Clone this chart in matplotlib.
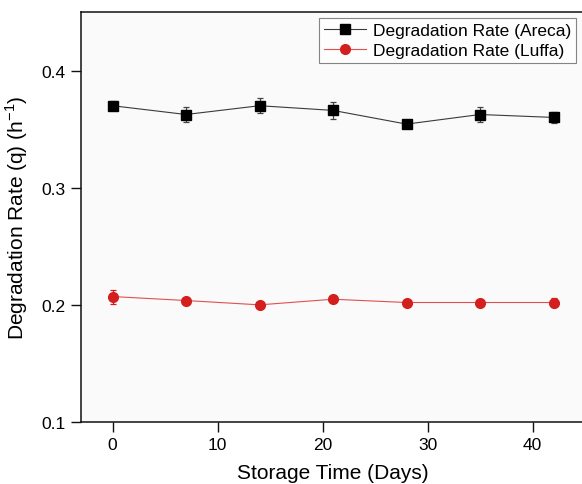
import matplotlib.pyplot as plt

plt.rcParams['font.family'] = ['Liberation Sans', 'DejaVu Sans']

days = [0, 7, 14, 21, 28, 35, 42]

areca = [0.370, 0.3625, 0.370, 0.366, 0.3543, 0.3625, 0.360]
areca_err = [0.0037, 0.0061, 0.0064, 0.0072, 0.0018, 0.0064, 0.0047]

luffa = [0.2071, 0.2037, 0.200, 0.2048, 0.202, 0.202, 0.202]
luffa_err = [0.006, 0.0018, 0.0018, 0.0018, 0.0018, 0.0018, 0.004]

fig = plt.figure(figsize=(5.82, 4.85), dpi=100)
ax = fig.add_axes([81 / 582, 62 / 485, 504 / 582, 410 / 485])
ax.set_facecolor('#fafafa')

# error bars first, then the lines/markers on top (keeps legend handles clean)
ax.errorbar(days, areca, yerr=areca_err, fmt='none', ecolor='#444444',
            elinewidth=0.9, capsize=2.5, capthick=0.9)
ax.errorbar(days, luffa, yerr=luffa_err, fmt='none', ecolor='#d41f1f',
            elinewidth=0.9, capsize=2.5, capthick=0.9)

ax.plot(days, areca, color='#3a3a3a', lw=0.8, marker='s', ms=6.5,
        mfc='black', mec='black', label='Degradation Rate (Areca)')
ax.plot(days, luffa, color='#e05050', lw=0.8, marker='o', ms=7,
        mfc='#d41f1f', mec='#d41f1f', label='Degradation Rate (Luffa)')

ax.set_xlim(-3, 45)
ax.set_ylim(0.1, 0.45)
ax.set_xticks([0, 10, 20, 30, 40])
ax.set_yticks([0.1, 0.2, 0.3, 0.4])
ax.tick_params(direction='out', length=7, width=1, labelsize=12.5, pad=4,
               color='#111111')

for s in ax.spines.values():
    s.set_linewidth(1.1)
    s.set_color('#111111')

ax.set_xlabel('Storage Time (Days)', fontsize=15, labelpad=8)
ax.set_ylabel('Degradation Rate (q) (h$^{\\mathregular{-1}}$)', fontsize=15,
              labelpad=8)

leg = ax.legend(loc='upper right', bbox_to_anchor=(0.99, 0.995), fontsize=12.5,
                frameon=True, fancybox=False, edgecolor='#666666',
                borderpad=0.3, handlelength=2.4, handletextpad=0.4,
                labelspacing=0.3, borderaxespad=0.2)
leg.get_frame().set_linewidth(0.8)

fig.savefig('out.png', dpi=100, facecolor='white')
